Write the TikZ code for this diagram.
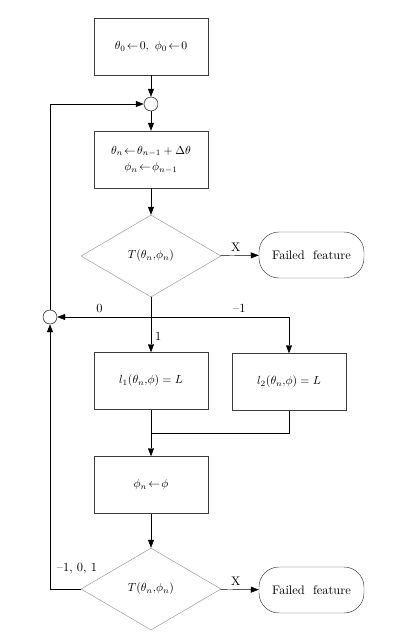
\documentclass[tikz,border=0pt]{standalone}
\usepackage{tikz}
\usetikzlibrary{shapes, arrows.meta, positioning, calc}
\usepackage{amsmath, amssymb}
\definecolor{boxgray}{RGB}{60, 60, 60}
\definecolor{dgray}{RGB}{150, 150, 150}
\tikzset{
  stepbox/.style={draw=boxgray, thin, minimum width=3.42cm, minimum height=1.71cm, align=center},
  testbox/.style={draw=dgray, thin, diamond, aspect=1.7, minimum width=4.2cm, minimum height=2.46cm, inner sep=0pt},
  endbox/.style={draw=boxgray, thin, rounded corners=0.6cm, minimum width=3.15cm, minimum height=1.38cm, font=\fontsize{10.6}{13}\selectfont},
  joint/.style={draw=black, thin, circle, fill=white, minimum size=0.42cm, inner sep=0pt},
  flow/.style={-{Triangle[length=2.4mm, width=1.8mm]}, thin},
  tag/.style={font=\fontsize{10.6}{13}\selectfont}
}

\begin{document}
\begin{tikzpicture}[x=0.03cm, y=-0.03cm]
  \useasboundingbox (0, 0) rectangle (403, 635);

  % Start and first loop
  \node[stepbox] (init) at (151, 46.5) {$\theta_0 \!\leftarrow\! 0,\ \phi_0 \!\leftarrow\! 0$};
  \node[joint] (top) at (151, 104) {};
  \node[stepbox] (step) at (151, 159.5) {$\theta_n \!\leftarrow\! \theta_{n-1} + \Delta\theta$\\[2pt] $\phi_n \!\leftarrow\! \phi_{n-1}$};
  \node[testbox] (test1) at (151, 256) {$T(\theta_n,\!\phi_n)$};
  \node[endbox] (fail1) at (311.5, 255) {Failed\ \ feature};
  \node[joint] (side) at (50, 317) {};
  \coordinate (split) at (151, 317);

  % Two branches
  \node[stepbox] (left) at (151, 381) {$l_1(\theta_n,\!\phi) = L$};
  \node[stepbox] (right) at (289, 382) {$l_2(\theta_n,\!\phi) = L$};
  \coordinate (merge) at (151, 433);
  \node[stepbox] (upd) at (151, 485) {$\phi_n \!\leftarrow\! \phi$};
  \node[testbox] (test2) at (151, 589) {$T(\theta_n,\!\phi_n)$};
  \node[endbox] (fail2) at (311.5, 590) {Failed\ \ feature};

  % Connectors
  \draw[flow] (init) -- (top);
  \draw[flow] (top) -- (step);
  \draw[flow] (step) -- (test1);
  \draw[flow] (test1) -- node[tag, above, pos=0.4] {X} (fail1);
  \draw[thin] (test1.south) -- (split);
  \draw[flow] (split) -- node[tag, above, pos=0.55] {0} (side);
  \draw[flow] (split) -| node[tag, above, pos=0.32] {--1} (right.north);
  \draw[flow] (split) -- node[tag, right, pos=0.55] {1} (left.north);
  \draw[thin] (left.south) -- (merge);
  \draw[thin] (right.south) |- (merge);
  \draw[flow] (merge) -- (upd.north);
  \draw[flow] (upd.south) -- (test2.north);
  \draw[flow] (test2) -- node[tag, above, pos=0.4] {X} (fail2);
  \draw[flow] (test2.west) -| (side.south);
  \draw[flow] (side.north) |- (top.west);
  \node[tag] (loop) at (77, 569) {--1,\ 0,\ 1};
\end{tikzpicture}
\end{document}
